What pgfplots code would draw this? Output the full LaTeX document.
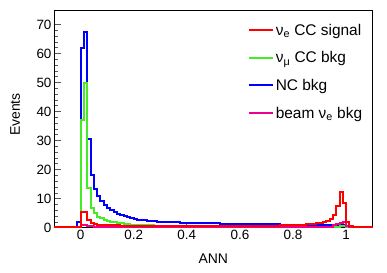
\documentclass[border=0pt]{standalone}
\usepackage{fontspec}
\setmainfont{Liberation Sans}
\usepackage{pgfplots}
\pgfplotsset{compat=1.18}
\definecolor{rootgreen}{RGB}{70,235,40}
\definecolor{rootred}{RGB}{255,0,0}
\begin{document}
\begin{tikzpicture}
\useasboundingbox (-54bp,-45.3bp) rectangle (333bp,227.7bp);
\begin{axis}[
  at={(0,0)}, anchor=south west,
  scale only axis, width=318.7bp, height=217.7bp,
  xmin=-0.1, xmax=1.1, ymin=0, ymax=75,
  xtick={0,0.2,0.4,0.6,0.8,1}, xticklabels={0,0.2,0.4,0.6,0.8,1},
  ytick={0,10,20,30,40,50,60,70},
  minor y tick num=4,
  tick align=inside, xtick pos=bottom, ytick pos=left,
  major tick length=7bp, minor tick length=4bp,
  x tick style={/pgfplots/major tick length=4bp},
  tick style={gray!70!black, line width=0.7bp},
  axis line style={black, line width=0.9bp},
  /pgf/number format/assume math mode=true,
  tick label style={font=\fontsize{13.5}{15}\selectfont},
  xticklabel style={yshift=1bp},
  yticklabel style={xshift=1bp},
  xlabel={ANN}, ylabel={Events},
  label style={font=\fontsize{14}{16}\selectfont},
  xlabel style={at={(axis description cs:0.5,-0.144)}, anchor=center},
  ylabel style={at={(axis description cs:-0.122,0.52)}, anchor=center},
  legend cell align=left,
  legend style={at={(axis description cs:0.605,0.95)}, anchor=north west,
    draw=none, fill=none, font=\fontsize{15.5}{17}\selectfont, row sep=11bp,
    inner sep=1bp},
  legend image code/.code={\draw[#1] (0bp,0.4bp) -- (24bp,0.4bp);},
]
\addlegendimage{draw=rootred, line width=1.8bp}
\addlegendentry{ν\textsubscript{e} CC signal}
\addlegendimage{draw=rootgreen, line width=1.8bp}
\addlegendentry{ν\textsubscript{μ} CC bkg}
\addlegendimage{draw=blue, line width=1.8bp}
\addlegendentry{NC bkg}
\addlegendimage{draw=magenta, line width=1.8bp}
\addlegendentry{beam ν\textsubscript{e} bkg}

% NC bkg
\addplot[const plot mark left, blue, line width=2bp, forget plot] coordinates {
(-0.1,0) (-0.0125,2) (0,62) (0.0125,67.5) (0.025,30.5) (0.0375,18) (0.05,13.5)
(0.0625,11) (0.075,9.2) (0.0875,7.8) (0.1,6.8) (0.1125,6.0) (0.125,5.4)
(0.1375,4.8) (0.15,4.3) (0.1625,3.9) (0.175,3.6) (0.1875,3.3) (0.2,3.0)
(0.2125,2.8) (0.225,2.7) (0.2375,2.5) (0.25,2.4) (0.2625,2.3) (0.275,2.2)
(0.2875,2.1) (0.3,2.0) (0.325,1.9) (0.35,1.8) (0.375,1.7) (0.425,1.6)
(0.475,1.5) (0.525,1.4) (0.575,1.3) (0.65,1.2) (0.75,1.1) (0.85,1.0)
(0.95,0.9) (1.0,0.3) (1.0125,0.05) (1.1,0.05)};

% nu_mu CC bkg
\addplot[const plot mark left, rootgreen, line width=2bp, forget plot] coordinates {
(-0.1,0) (0,37) (0.0125,50) (0.025,13.6) (0.0375,6.8) (0.05,5.0) (0.0625,3.8)
(0.075,3.2) (0.0875,2.7) (0.1,2.3) (0.1125,2.0) (0.125,1.8) (0.1375,1.6)
(0.15,1.45) (0.1625,1.3) (0.175,1.2) (0.1875,1.1) (0.2,1.0) (0.225,0.9)
(0.25,0.8) (0.275,0.7) (0.3,0.6) (0.35,0.5) (0.4,0.45) (0.5,0.4) (0.6,0.35)
(0.7,0.3) (0.95,0.4) (0.975,0.5) (1.0,0.3) (1.0125,0) (1.1,0)};

% beam nu_e bkg
\addplot[const plot mark left, magenta, line width=2bp, forget plot] coordinates {
(-0.1,0) (0,0.8) (0.025,0.5) (0.05,0.3) (0.1,0.2) (0.2,0.15) (0.8,0.2)
(0.9,0.4) (0.95,0.8) (0.9625,1.2) (0.975,1.6) (0.9875,1.9) (1.0,0.5)
(1.0125,0) (1.1,0)};

% nu_e CC signal
\addplot[const plot mark left, rootred, line width=2bp, forget plot] coordinates {
(-0.1,0.3) (0,5.5) (0.025,2.5) (0.0375,1.6) (0.05,1.3) (0.0625,1.1)
(0.075,1.0) (0.0875,0.9) (0.1,0.85) (0.125,0.8) (0.15,0.75) (0.2,0.7)
(0.3,0.65) (0.4,0.6) (0.6,0.65) (0.7,0.75) (0.75,0.85) (0.8,0.95)
(0.825,1.05) (0.85,1.15) (0.8625,1.25) (0.875,1.35) (0.8875,1.5) (0.9,1.7)
(0.9125,1.95) (0.925,2.4) (0.9375,3.0) (0.95,4.4) (0.9625,7.5) (0.975,12.2)
(0.9875,8.5) (1.0,2.0) (1.0125,0.6) (1.025,0.3) (1.1,0.3)};
\end{axis}
\end{tikzpicture}
\end{document}
